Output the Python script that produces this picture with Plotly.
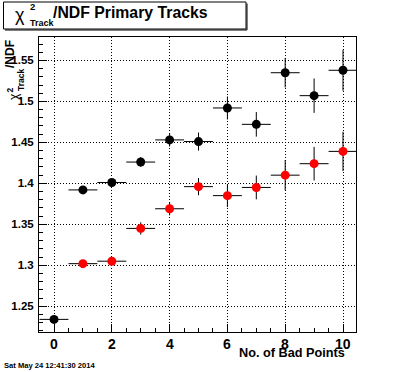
import plotly.graph_objects as go

# ---- data ----
bad_points_black = [0, 1, 2, 3, 4, 5, 6, 7, 8, 9, 10]
chi2_black = [1.234, 1.392, 1.401, 1.426, 1.453, 1.451, 1.492, 1.472, 1.535, 1.507, 1.538]
err_black = [0.003, 0.003, 0.003, 0.006, 0.008, 0.011, 0.014, 0.015, 0.018, 0.021, 0.025]

bad_points_red = [1, 2, 3, 4, 5, 6, 7, 8, 9, 10]
chi2_red = [1.302, 1.305, 1.345, 1.369, 1.396, 1.385, 1.395, 1.410, 1.424, 1.439]
err_red = [0.003, 0.003, 0.0075, 0.008, 0.0105, 0.014, 0.0145, 0.0185, 0.0205, 0.024]

half_bin = 0.5
x_tick_vals = [0, 2, 4, 6, 8, 10]
x_tick_text = ["0", "2", "4", "6", "8", "10"]
y_tick_vals = [1.25, 1.3, 1.35, 1.4, 1.45, 1.5, 1.55]
y_tick_text = ["1.25", "1.3", "1.35", "1.4", "1.45", "1.5", "1.55"]

W, H = 396, 372
L, R, T, B = 39, 40, 37, 40
PW, PH = W - L - R, H - T - B


def px(x):
    return (x - L) / PW


def py(y):
    return (H - B - y) / PH


FONT = "Liberation Sans"

fig = go.Figure()


def add_series(xs, ys, es, color):
    fig.add_trace(go.Scatter(
        x=xs, y=ys, mode="markers",
        marker=dict(color=color, size=9, line=dict(width=0)),
        error_x=dict(type="data", array=[half_bin] * len(xs), symmetric=True,
                     color="black", thickness=1, width=0),
        error_y=dict(type="data", array=es, symmetric=True,
                     color="black", thickness=1, width=0),
        showlegend=False, hoverinfo="x+y",
    ))


add_series(bad_points_black, chi2_black, err_black, "#000000")
add_series(bad_points_red, chi2_red, err_red, "#ff0000")

axis_common = dict(
    showline=True, mirror=True, linecolor="black", linewidth=1,
    showgrid=True, gridcolor="black", gridwidth=1, griddash="1px,2px",
    zeroline=False, ticks="inside", tickcolor="black", tickwidth=1,
)

fig.update_xaxes(
    range=[-0.52, 10.45], tickvals=x_tick_vals, ticklen=8, showticklabels=False,
    minor=dict(dtick=0.5, tick0=0, ticks="inside", ticklen=4, tickcolor="black", showgrid=False),
    **axis_common,
)
fig.update_yaxes(
    range=[1.2186, 1.5786], tickvals=y_tick_vals, ticktext=y_tick_text, ticklen=8,
    tickfont=dict(family=FONT, size=11.5, color="black", weight="bold"),
    minor=dict(dtick=0.01, tick0=1.25, ticks="inside", ticklen=4, tickcolor="black", showgrid=False),
    ticklabelstandoff=2,
    **axis_common,
)

annotations = []


def ann(text, x, y, size, xanchor="left", yanchor="middle", bold=True, angle=0):
    annotations.append(dict(
        text=text, x=px(x), y=py(y), xref="paper", yref="paper",
        xanchor=xanchor, yanchor=yanchor, showarrow=False, textangle=angle,
        font=dict(family=FONT, size=size, color="black", weight="bold" if bold else "normal"),
    ))


# x tick labels placed on the x data scale
for v, t in zip(x_tick_vals, x_tick_text):
    annotations.append(dict(
        text=t, x=v, y=py(343.5), xref="x", yref="paper",
        xanchor="center", yanchor="middle", showarrow=False,
        font=dict(family=FONT, size=14, color="black", weight="bold"),
    ))

# title
ann("χ", 12.5, 15, 18, bold=False)
ann("2", 27.5, 6.5, 9.5)
ann("Track", 27.5, 22.5, 9)
ann("/NDF Primary Tracks", 50.5, 13, 15.8)

# y axis title (rotated)
ann("/NDF", 10, 54, 12, xanchor="center", angle=-90)
ann("Track", 21, 80, 8.5, xanchor="center", angle=-90)
ann("2", 9.5, 90, 8.5, xanchor="center", angle=-90)
ann("χ", 14, 97, 12, xanchor="center", bold=False, angle=-90)

# x axis title
ann("No. of Bad Points", 347, 353, 12.7, xanchor="right")

# date
ann("Sat May 24 12:41:30 2014", 2, 365.5, 7.6)

shapes = [
    dict(type="rect", xref="paper", yref="paper", x0=px(3.5), x1=px(246), y0=py(29), y1=py(2),
         line=dict(color="black", width=1), fillcolor="rgba(0,0,0,0)"),
    dict(type="line", xref="paper", yref="paper", x0=px(247), x1=px(247), y0=py(30), y1=py(3.5),
         line=dict(color="black", width=1)),
    dict(type="line", xref="paper", yref="paper", x0=px(5), x1=px(247), y0=py(30), y1=py(30),
         line=dict(color="black", width=1)),
]

fig.update_layout(
    width=W, height=H,
    margin=dict(l=L, r=R, t=T, b=B, autoexpand=False),
    paper_bgcolor="white", plot_bgcolor="white",
    annotations=annotations, shapes=shapes,
    showlegend=False,
)

fig.write_html("out.html", config={"displayModeBar": False},
               post_script="document.body.style.margin='0';document.body.style.padding='0';")
